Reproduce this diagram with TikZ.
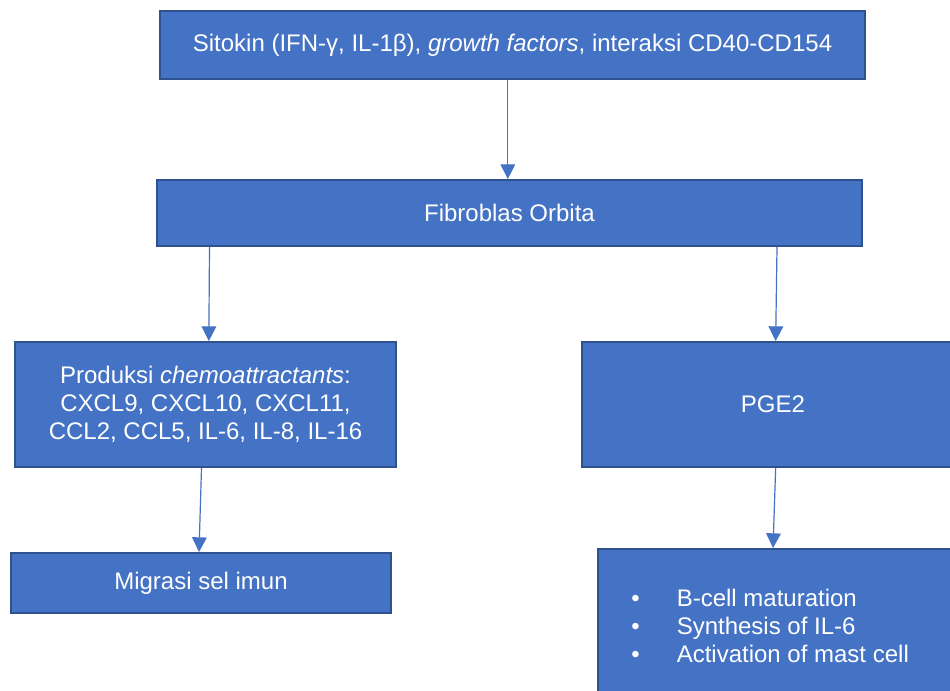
\documentclass[tikz,border=0pt]{standalone}
\usepackage{fontspec}
\setmainfont{Liberation Sans}
\usetikzlibrary{arrows.meta}
\definecolor{boxfill}{HTML}{4472C4}
\definecolor{boxedge}{HTML}{2F528F}
\tikzset{
  box/.style={draw=boxedge, line width=1.5pt, fill=boxfill, text=white, inner sep=0pt, align=center,
    font=\fontsize{18}{21}\selectfont},
  txt/.style={text=white, inner sep=0pt, align=left, font=\fontsize{18}{21}\selectfont},
  arr/.style={draw=boxfill, line width=0.9pt, -{Triangle[length=11pt,width=11pt]}}
}
\begin{document}
\begin{tikzpicture}[x=0.75pt,y=-0.75pt]
\useasboundingbox (0,0) rectangle (950,691);
\clip (0,0) rectangle (950,691);
\fill[white] (0,0) rectangle (950,691);
\node[box, minimum width=705*0.75pt, minimum height=68*0.75pt] (top) at (512.5,45)
  {Sitokin (IFN-γ, IL-1β), \textit{growth factors}, interaksi CD40-CD154};
\node[box, minimum width=705*0.75pt, minimum height=66*0.75pt] (fib) at (509.5,213) {Fibroblas Orbita};
\node[box, minimum width=381*0.75pt, minimum height=125*0.75pt] (prod) at (205.5,404.5)
  {Produksi \textit{chemoattractants}:\\CXCL9, CXCL10, CXCL11,\\CCL2, CCL5, IL-6, IL-8, IL-16};
\node[box, minimum width=380*0.75pt, minimum height=60*0.75pt] (mig) at (201,583) {Migrasi sel imun};
\node[box, minimum width=382*0.75pt, minimum height=125*0.75pt] (pge) at (773,404.5) {PGE2};
\node[box, minimum width=362*0.75pt, minimum height=180*0.75pt] (eff) at (779,639) {};
\node[txt, anchor=west] (efftext) at (631,629)
  {\begin{tabular}{@{}p{45.5\dimexpr0.75pt\relax}@{}l@{}}
   \textbullet & B-cell maturation\\
   \textbullet & Synthesis of IL-6\\
   \textbullet & Activation of mast cell
   \end{tabular}};
\draw[arr] ([xshift=-3.5]top.south) -- ([xshift=-3.5]top.south |- fib.north);
\draw[arr] ([xshift=3]prod.north |- fib.south) -- ([xshift=2.5]prod.north);
\draw[arr] ([xshift=3]pge.north |- fib.south) -- ([xshift=2]pge.north);
\draw[arr] ([xshift=-3]prod.south) -- ([xshift=-1.5]mig.north);
\draw[arr] ([xshift=2]pge.south) -- ([xshift=0]pge.south |- eff.north);
\end{tikzpicture}
\end{document}
